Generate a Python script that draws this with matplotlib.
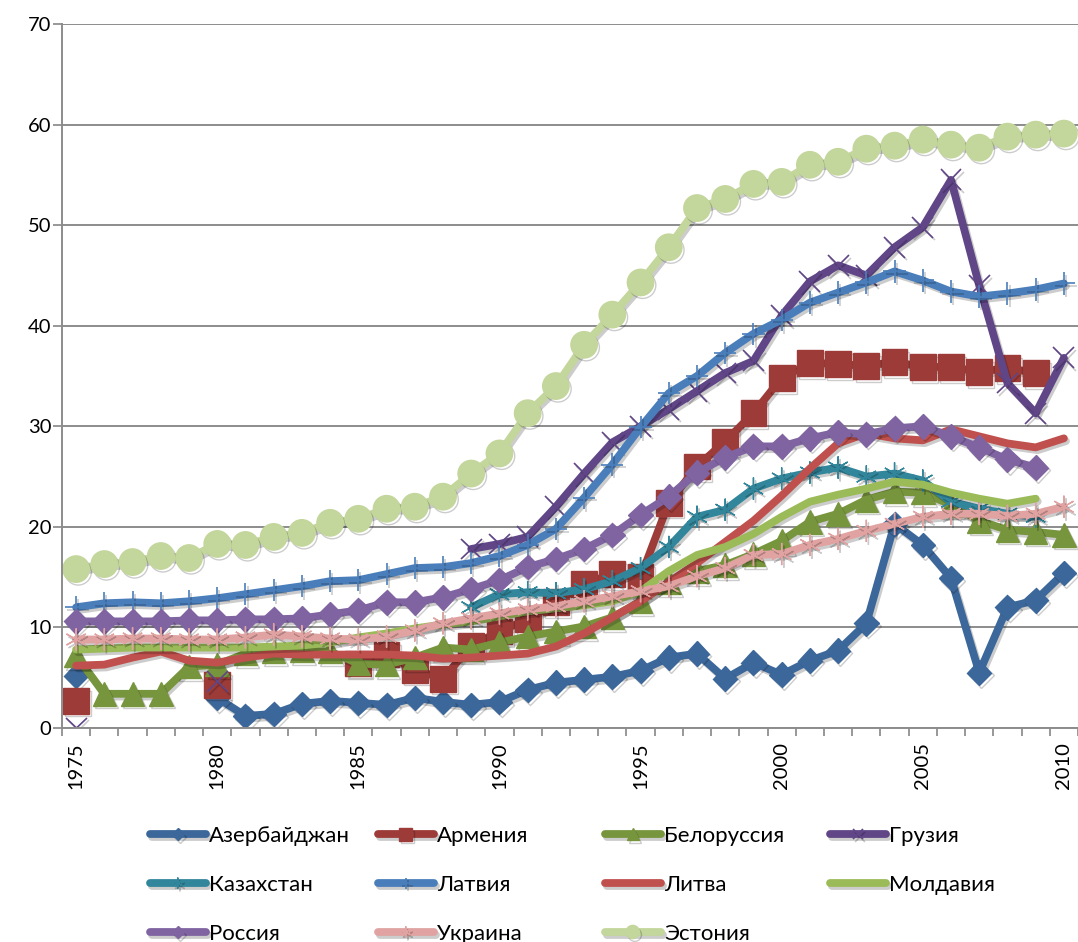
import numpy as np
import matplotlib
matplotlib.use("Agg")
import matplotlib.pyplot as plt
import matplotlib.patheffects as pe

plt.rcParams['font.family'] = ['Lato', 'DejaVu Sans']

years = list(range(1975, 2011))
nan = np.nan

# данные по странам, 1975-2010 (пропуски = nan)
azerbaijan = [5.2, nan, nan, nan, nan, 3.0, 1.2, 1.4, 2.4, 2.7,
              2.5, 2.3, 3.0, 2.6, 2.3, 2.6, 3.8, 4.5, 4.8, 5.1,
              5.7, 7.0, 7.4, 4.9, 6.5, 5.3, 6.7, 7.7, 10.4, 20.3,
              18.2, 14.9, 5.5, 12.0, 12.7, 15.4]
armenia = [2.7, nan, nan, nan, nan, 4.3, nan, nan, nan, nan,
           6.4, 7.3, 5.8, 4.9, 8.2, 9.6, 10.8, 12.5, 14.3, 15.3,
           15.0, 22.4, 26.0, 28.5, 31.3, 34.8, 36.3, 36.2, 36.0, 36.4,
           35.9, 35.9, 35.4, 35.8, 35.3, nan]
belarus = [7.2, 3.4, 3.4, 3.4, 6.1, 6.3, 7.4, 7.6, 7.7, 7.6,
           6.4, 6.3, 7.0, 8.0, 7.8, 8.5, 9.1, 9.6, 10.1, 11.0,
           12.6, 14.5, 15.6, 16.2, 17.3, 18.6, 20.5, 21.3, 22.7, 23.5,
           23.4, 22.2, 20.6, 19.7, 19.5, 19.2]
georgia = [0.0, nan, nan, nan, nan, 4.6, nan, nan, nan, nan,
           nan, nan, nan, nan, 17.8, 18.3, 19.0, 22.0, 25.3, 28.4,
           30.0, 31.7, 33.5, 35.3, 36.5, 41.0, 44.4, 46.0, 45.0, 47.8,
           49.8, 54.5, 44.0, 34.3, 31.3, 36.8]
kazakhstan = [nan, nan, nan, nan, nan, nan, nan, nan, nan, nan,
              nan, nan, nan, nan, 12.0, 13.3, 13.5, 13.4, 13.8, 14.6,
              15.9, 18.0, 21.0, 21.7, 23.8, 24.8, 25.4, 25.9, 25.0, 25.3,
              24.6, 22.5, 21.8, 21.3, 21.0, nan]
latvia = [12.0, 12.4, 12.5, 12.4, 12.6, 12.9, 13.3, 13.7, 14.1, 14.6,
          14.7, 15.3, 15.9, 16.0, 16.4, 17.1, 18.2, 19.8, 22.9, 26.2,
          29.9, 33.3, 35.0, 37.3, 39.2, 40.6, 42.3, 43.3, 44.3, 45.4,
          44.5, 43.4, 42.9, 43.2, 43.6, 44.2]
lithuania = [6.2, 6.3, 7.0, 7.6, 6.7, 6.5, 7.0, 7.4, 7.3, 7.3,
             7.3, 7.3, 7.2, 6.9, 7.0, 7.2, 7.4, 8.1, 9.4, 11.0,
             12.6, 14.5, 16.4, 18.5, 20.6, 23.1, 25.8, 28.3, 29.3, 28.8,
             28.6, 29.7, 29.0, 28.3, 27.9, 28.8]
moldova = [7.8, 7.9, 8.0, 8.0, 8.0, 8.0, 8.0, 8.1, 8.2, 8.5,
           9.0, 9.4, 9.9, 10.3, 10.6, 11.1, 11.6, 11.9, 12.2, 12.6,
           13.6, 15.6, 17.2, 18.0, 19.3, 21.0, 22.5, 23.2, 23.8, 24.5,
           24.2, 23.4, 22.8, 22.3, 22.8, nan]
russia = [10.6, 10.6, 10.6, 10.6, 10.7, 10.7, 10.8, 10.8, 10.9, 11.3,
          11.7, 12.5, 12.5, 13.0, 13.8, 14.7, 16.0, 16.8, 17.8, 19.2,
          21.2, 23.0, 25.4, 26.9, 28.0, 28.0, 28.8, 29.4, 29.2, 29.8,
          30.0, 29.0, 27.9, 26.7, 25.9, nan]
ukraine = [8.8, 8.8, 8.9, 8.9, 8.8, 8.8, 9.0, 9.3, 9.1, 8.9,
           8.8, 9.1, 9.7, 10.4, 10.9, 11.4, 11.8, 12.1, 12.6, 13.1,
           13.6, 14.1, 15.1, 15.9, 17.2, 17.3, 18.2, 18.8, 19.6, 20.3,
           21.0, 21.3, 21.3, 21.1, 21.3, 22.0]
estonia = [15.8, 16.3, 16.5, 17.1, 16.9, 18.3, 18.2, 19.0, 19.4, 20.4,
           20.8, 21.8, 22.0, 23.0, 25.3, 27.3, 31.3, 34.0, 38.1, 41.1,
           44.3, 47.8, 51.7, 52.6, 54.1, 54.3, 56.0, 56.3, 57.6, 57.9,
           58.5, 58.0, 57.7, 58.8, 59.0, 59.1]

names = ['Азербайджан', 'Армения', 'Белоруссия', 'Грузия', 'Казахстан', 'Латвия',
         'Литва', 'Молдавия', 'Россия', 'Украина', 'Эстония']
series = [azerbaijan, armenia, belarus, georgia, kazakhstan, latvia,
          lithuania, moldova, russia, ukraine, estonia]

star = (6, 2, 0)
styles = [
    dict(color='#3C679A', marker='D', ms=12.5),
    dict(color='#9C3B38', marker='s', ms=18.5),
    dict(color='#77953D', marker='^', ms=17),
    dict(color='#604587', marker='x', ms=15, mew=1.2),
    dict(color='#31869B', marker=star, ms=16, mew=1.0),
    dict(color='#4A7EBB', marker='+', ms=16, mew=1.2),
    dict(color='#C0504D', marker=None),
    dict(color='#9BBB59', marker=None),
    dict(color='#8064A2', marker='D', ms=12.5),
    dict(color='#E0A3A2', marker=star, ms=16, mew=1.0),
    dict(color='#C3D69B', marker='o', ms=19),
]

fig = plt.figure(figsize=(10.78, 9.42), dpi=100)
ax = fig.add_axes([62 / 1078, 1 - 728 / 942, 1 - 62 / 1078, (728 - 24) / 942])

x = np.arange(len(years))
shadow = [pe.SimpleLineShadow(offset=(1.5, -2), shadow_color='k', alpha=0.2), pe.Normal()]
handles = []
for name, vals, st in zip(names, series, styles):
    st = dict(st)
    mew = st.pop('mew', 1)
    h, = ax.plot(x, np.array(vals, dtype=float), lw=5.6, label=name,
                 solid_capstyle='round', solid_joinstyle='round',
                 markeredgewidth=mew, markeredgecolor=st['color'],
                 path_effects=shadow, **st)
    handles.append(h)

ax.set_ylim(0, 70)
ax.set_yticks(range(0, 71, 10))
ax.set_xlim(-0.5, -0.5 + (1078 - 62) / 28.35)
ax.set_xticks(np.arange(-0.5, 36, 1), minor=False)
ax.set_xticklabels([])
ax.set_xticks(x[::5], minor=True)
ax.set_xticklabels([str(y) for y in years[::5]], minor=True, rotation=90, fontsize=14.5)
ax.tick_params(axis='x', which='minor', length=0, pad=10)
ax.tick_params(axis='x', which='major', length=6, color='#868686', width=1.2)
ax.tick_params(axis='y', length=6.5, color='#868686', width=1.2, labelsize=14.5, pad=1)

ax.grid(axis='y', color='#8C8C8C', lw=1.4)
ax.set_axisbelow(True)
for s in ['top', 'right']:
    ax.spines[s].set_visible(False)
for s in ['left', 'bottom']:
    ax.spines[s].set_color('#8C8C8C')
    ax.spines[s].set_linewidth(1.4)

# легенда: 4 колонки с фиксированными позициями
cols = [[0, 4, 8], [1, 5, 9], [2, 6, 10], [3, 7]]
col_x = [150, 378, 605, 830]
for cx, idx in zip(col_x, cols):
    leg = fig.legend([handles[i] for i in idx], [names[i] for i in idx],
                     loc='upper left', bbox_to_anchor=(cx / 1078, 1 - 826 / 942),
                     frameon=False, fontsize=16, handlelength=2.5,
                     handletextpad=0.15, labelspacing=1.3, borderpad=0,
                     borderaxespad=0, markerscale=0.5)

fig.savefig('out.png', dpi=100)
